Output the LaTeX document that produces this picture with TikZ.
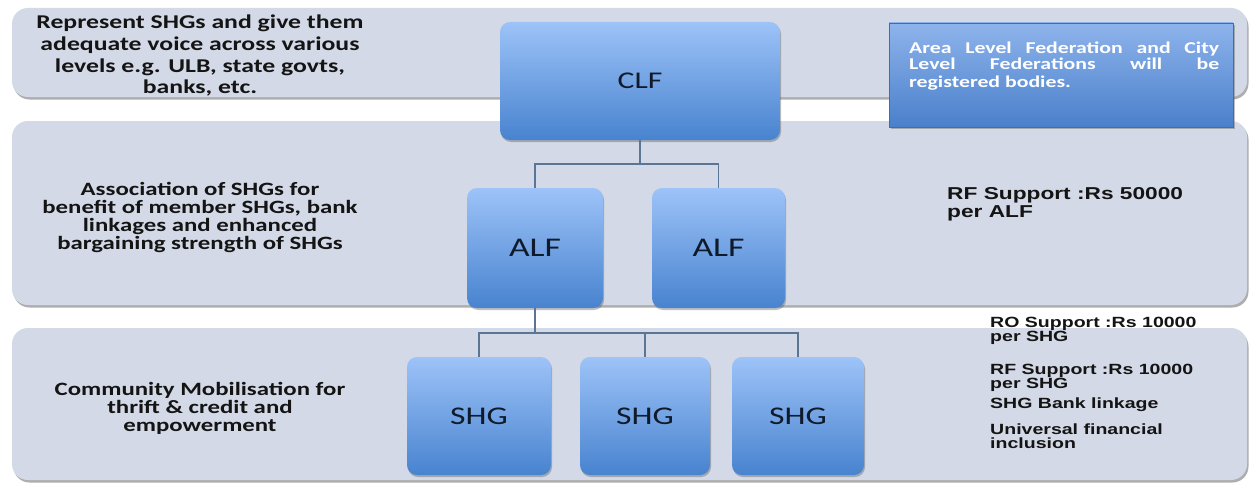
\documentclass[tikz,border=0pt]{standalone}
\usepackage{fontspec}
\setmainfont{Carlito}
\newfontfamily\calfont[FakeStretch=1.32]{Carlito}
\newfontfamily\arfont[FakeStretch=1.32]{Liberation Sans}
\usetikzlibrary{shadows}
\definecolor{bandfill}{HTML}{D3D9E6}
\definecolor{btop}{HTML}{9DC3F8}
\definecolor{bbot}{HTML}{4883CF}
\definecolor{ntop}{HTML}{8EB4EB}
\definecolor{nbot}{HTML}{4A80CB}
\definecolor{nline}{HTML}{3F6DB0}
\definecolor{connc}{HTML}{5B7594}
\definecolor{ink}{HTML}{141414}
\definecolor{boxink}{HTML}{0F1A2B}
\tikzset{
  band/.style={fill=bandfill, rounded corners=16pt,
    drop shadow={shadow xshift=1.5pt, shadow yshift=-2.5pt, opacity=0.45, fill=black!70}},
  bluebox/.style={rounded corners=10pt, top color=btop, bottom color=bbot, draw=none,
    drop shadow={shadow xshift=1pt, shadow yshift=-2pt, opacity=0.35, fill=black!70},
    text=boxink, inner sep=0pt},
  notebox/.style={top color=ntop, bottom color=nbot, draw=nline, line width=0.6pt,
    drop shadow={shadow xshift=1.5pt, shadow yshift=-2pt, opacity=0.35, fill=black!70},
    inner sep=0pt},
  conn/.style={draw=connc, line width=1.6pt},
  lefttext/.style={anchor=base, inner sep=0pt, text=ink, font=\calfont\bfseries\fontsize{19.5}{21}\selectfont},
  lefttextb/.style={anchor=base, inner sep=0pt, text=ink, font=\calfont\bfseries\fontsize{18.8}{20}\selectfont},
  notetext/.style={anchor=base west, inner sep=0pt, text=white, font=\calfont\bfseries\fontsize{16.5}{17}\selectfont},
  righttext/.style={anchor=base west, inner sep=0pt, text=ink, font=\arfont\bfseries\fontsize{14.8}{16}\selectfont},
  righttextb/.style={anchor=base west, inner sep=0pt, text=ink, font=\arfont\bfseries\fontsize{17.2}{18}\selectfont}
}
\begin{document}
\begin{tikzpicture}[x=1pt,y=-1pt]
\useasboundingbox (0,0) rectangle (1252,487);
\fill[white] (0,0) rectangle (1252,487);

% bands
\path[band] (12,8) rectangle (1247,97);
\path[band] (12,121) rectangle (1247,305);
\path[band] (12,328) rectangle (1247,480);

% left texts
\node[lefttext] (t1a) at (200,29) {Represent SHGs and give them};
\node[lefttext] (t1b) at (200,51) {adequate voice across various};
\node[lefttext] (t1c) at (200,72) {levels e.g. ULB, state govts,};
\node[lefttext] (t1d) at (200,93) {banks, etc.};

\node[lefttextb] (t2a) at (200,195) {Association of SHGs for};
\node[lefttextb] (t2b) at (200,213) {benefit of member SHGs, bank};
\node[lefttextb] (t2c) at (200,231) {linkages and enhanced};
\node[lefttextb] (t2d) at (200,249) {bargaining strength of SHGs};

\node[lefttextb] (t3a) at (200,395) {Community Mobilisation for};
\node[lefttextb] (t3b) at (200,413) {thrift \& credit and};
\node[lefttextb] (t3c) at (200,431) {empowerment};

% right texts
\node[righttextb] (r2a) at (947,199) {RF Support :Rs 50000};
\node[righttextb] (r2b) at (947,217) {per ALF};

\node[righttext] (r3a) at (990,327) {RO Support :Rs 10000};
\node[righttext] (r3b) at (990,341) {per SHG};
\node[righttext] (r3c) at (990,374) {RF Support :Rs 10000};
\node[righttext] (r3d) at (990,388) {per SHG};
\node[righttext] (r3e) at (990,408) {SHG Bank linkage};
\node[righttext] (r3f) at (990,434) {Universal financial};
\node[righttext] (r3g) at (990,448) {inclusion};

% connectors
\coordinate (j1) at (640,164);
\coordinate (j2) at (535,333);

% boxes
\node[bluebox, minimum width=280pt, minimum height=118pt, font=\calfont\fontsize{24}{28}\selectfont] (clf) at (640,81) {CLF};
\node[bluebox, minimum width=136pt, minimum height=120pt, font=\calfont\fontsize{27}{30}\selectfont] (alf1) at (535,248) {ALF};
\node[bluebox, minimum width=133pt, minimum height=120pt, font=\calfont\fontsize{27}{30}\selectfont] (alf2) at (718.5,248) {ALF};
\node[bluebox, minimum width=144pt, minimum height=118pt, font=\calfont\fontsize{25.5}{28}\selectfont] (shg1) at (479,416) {SHG};
\node[bluebox, minimum width=130pt, minimum height=118pt, font=\calfont\fontsize{25.5}{28}\selectfont] (shg2) at (645,416) {SHG};
\node[bluebox, minimum width=132pt, minimum height=118pt, font=\calfont\fontsize{25.5}{28}\selectfont] (shg3) at (798,416) {SHG};

\draw[conn] (clf.south) -- (j1);
\draw[conn] (j1) -| (alf1.north);
\draw[conn] (j1) -| (alf2.north);
\draw[conn] (alf1.south) -- (j2);
\draw[conn] (j2) -| (shg1.north);
\draw[conn] (j2) -| (shg2.north);
\draw[conn] (j2) -| (shg3.north);

% note box
\node[notebox, minimum width=344pt, minimum height=104pt] (note) at (1061,75) {};
\node[notetext] (n1) at (909,53) {\makebox[310pt][s]{Area Level Federation and City}};
\node[notetext] (n2) at (909,70) {\makebox[310pt][s]{Level Federations will be}};
\node[notetext] (n3) at (909,87) {registered bodies.};
\end{tikzpicture}
\end{document}
